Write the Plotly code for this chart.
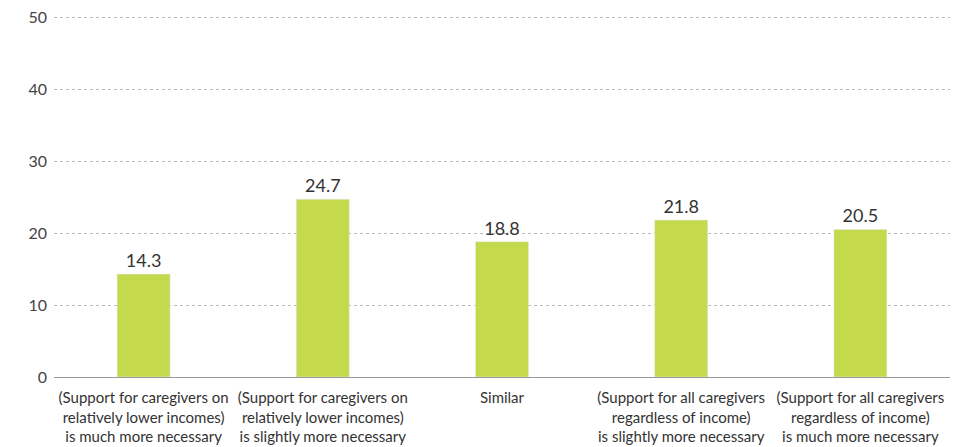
import plotly.graph_objects as go

categories = [
    "(Support for caregivers on<br>relatively lower incomes)<br>is much more necessary",
    "(Support for caregivers on<br>relatively lower incomes)<br>is slightly more necessary",
    "Similar",
    "(Support for all caregivers<br>regardless of income)<br>is slightly more necessary",
    "(Support for all caregivers<br>regardless of income)<br>is much more necessary",
]
values = [14.3, 24.7, 18.8, 21.8, 20.5]
y_ticks = [0, 10, 20, 30, 40, 50]

fig = go.Figure()
fig.add_trace(go.Bar(
    x=categories,
    y=values,
    marker_color="#c4d94c",
    width=0.296,
    text=[f"{v:.1f}" for v in values],
    textposition="outside",
    textfont=dict(size=18, color="#333333"),
    cliponaxis=False,
))

# the page body adds an 8px offset, so the figure is a bit smaller than the window
fig.update_layout(
    width=959,
    height=439,
    margin=dict(l=46, r=17, t=7, b=70),
    plot_bgcolor="white",
    paper_bgcolor="white",
    font=dict(family="Lato", size=15, color="#333333"),
    showlegend=False,
)
fig.update_xaxes(
    automargin=False,
    tickangle=0,
    showline=True,
    linecolor="#999999",
    linewidth=1,
    showgrid=False,
    ticks="",
    ticklabelstandoff=7,
    tickfont=dict(size=15, color="#333333"),
)
fig.update_yaxes(
    automargin=False,
    range=[0, 50.3],
    tickvals=y_ticks,
    showgrid=True,
    gridcolor="#bbbbbb",
    griddash="dot",
    zeroline=False,
    ticks="",
    ticklabelstandoff=6,
    ticklabeloverflow="allow",
    tickfont=dict(size=16, color="#444444"),
)

fig.write_html("out.html")
